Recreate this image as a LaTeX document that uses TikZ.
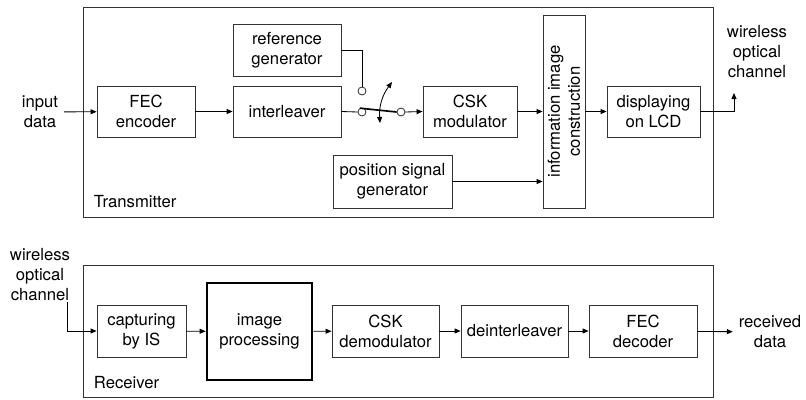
\documentclass[tikz,border=0pt]{standalone}
\usepackage{fontspec}
\setmainfont{TeX Gyre Heros}
\usetikzlibrary{arrows.meta,positioning}

\begin{document}
\begin{tikzpicture}[x=0.6pt,y=0.6pt,line width=0.5pt,
  block/.style={draw=black!80,align=center,inner sep=1pt},
  sw/.style={circle,draw=black!80,fill=white,inner sep=0pt,minimum size=4.8pt},
  label/.style={align=center},
  >={Triangle[length=3.6pt,width=3pt]}]
  \useasboundingbox (0,0) rectangle (806,-399);
  % transmitter
  \draw[black!80] (83,-7) rectangle (713,-217);
  \node[anchor=west] (txname) at (88,-202) {Transmitter};
  \node[label] (indata) at (40,-112) {input\\data};
  \node[block,minimum width=58.8pt,minimum height=30.6pt] (fec) at (146,-111.5) {FEC\\encoder};
  \node[block,minimum width=64.8pt,minimum height=30.6pt] (ileav) at (287,-111.5) {interleaver};
  \node[block,minimum width=64.8pt,minimum height=31.2pt] (refgen) at (287,-50) {reference\\generator};
  \node[block,minimum width=71.4pt,minimum height=31.8pt] (posgen) at (392.5,-181.5) {position signal\\generator};
  \node[block,minimum width=56.4pt,minimum height=30.6pt] (cskmod) at (470,-111.5) {CSK\\modulator};
  \node[block,rotate=90,minimum width=115.8pt,minimum height=25.2pt] (infoimg) at (564,-111.5) {information image\\construction};
  \node[block,minimum width=55.8pt,minimum height=30.6pt] (lcd) at (653.5,-111.5) {displaying\\on LCD};
  \node[label] (txch) at (757,-52) {wireless\\optical\\channel};
  \node[sw] (sa) at (362,-91) {};
  \node[sw] (sb) at (362,-112) {};
  \node[sw] (sc) at (401,-112) {};
  \coordinate (swlo) at (380,-123);
  \coordinate (swhi) at (392,-82);
  \coordinate (txout) at (734,-93);
  \draw[->] (indata) -- (fec);
  \draw[->] (fec) -- (ileav);
  \draw (ileav.east) -- (sb.west);
  \draw (refgen.east) -| (sa.north);
  \draw[line width=1pt] (sb.120) -- (sc.west);
  \draw[<->] (swlo) to[bend left=20] (swhi);
  \draw[->] (sc.east) -- (cskmod.west);
  \draw[->] (cskmod.east) -- (cskmod.east -| infoimg.north);
  \draw[->] (posgen.east) -- (posgen.east -| infoimg.north);
  \draw[->] (infoimg.south) -- (lcd.west);
  \draw[->] (lcd.east) -| (txout);
  % receiver
  \draw[black!80] (83,-265) rectangle (713,-397);
  \node[anchor=west] (rxname) at (88,-383) {Receiver};
  \node[label] (rxch) at (40,-275) {wireless\\optical\\channel};
  \node[block,minimum width=53.4pt,minimum height=31.2pt] (cap) at (141.5,-331) {capturing\\by IS};
  \node[block,line width=1.6pt,draw=black,minimum width=63pt,minimum height=58.2pt] (imgproc) at (259.5,-331.5) {image\\processing};
  \node[block,minimum width=64.2pt,minimum height=31.2pt] (cskdem) at (385.5,-331) {CSK\\demodulator};
  \node[block,minimum width=64.2pt,minimum height=31.2pt] (deint) at (514.5,-331) {deinterleaver};
  \node[block,minimum width=64.8pt,minimum height=31.2pt] (fecdec) at (643,-331) {FEC\\decoder};
  \node[label] (recdata) at (770,-332) {received\\data};
  \coordinate (rxin) at (67,-302);
  \draw[->] (rxin) |- (cap.west);
  \draw[->] (cap) -- (imgproc);
  \draw[->] (imgproc) -- (cskdem);
  \draw[->] (cskdem) -- (deint);
  \draw[->] (deint) -- (fecdec);
  \draw[->] (fecdec) -- (recdata);
\end{tikzpicture}
\end{document}
